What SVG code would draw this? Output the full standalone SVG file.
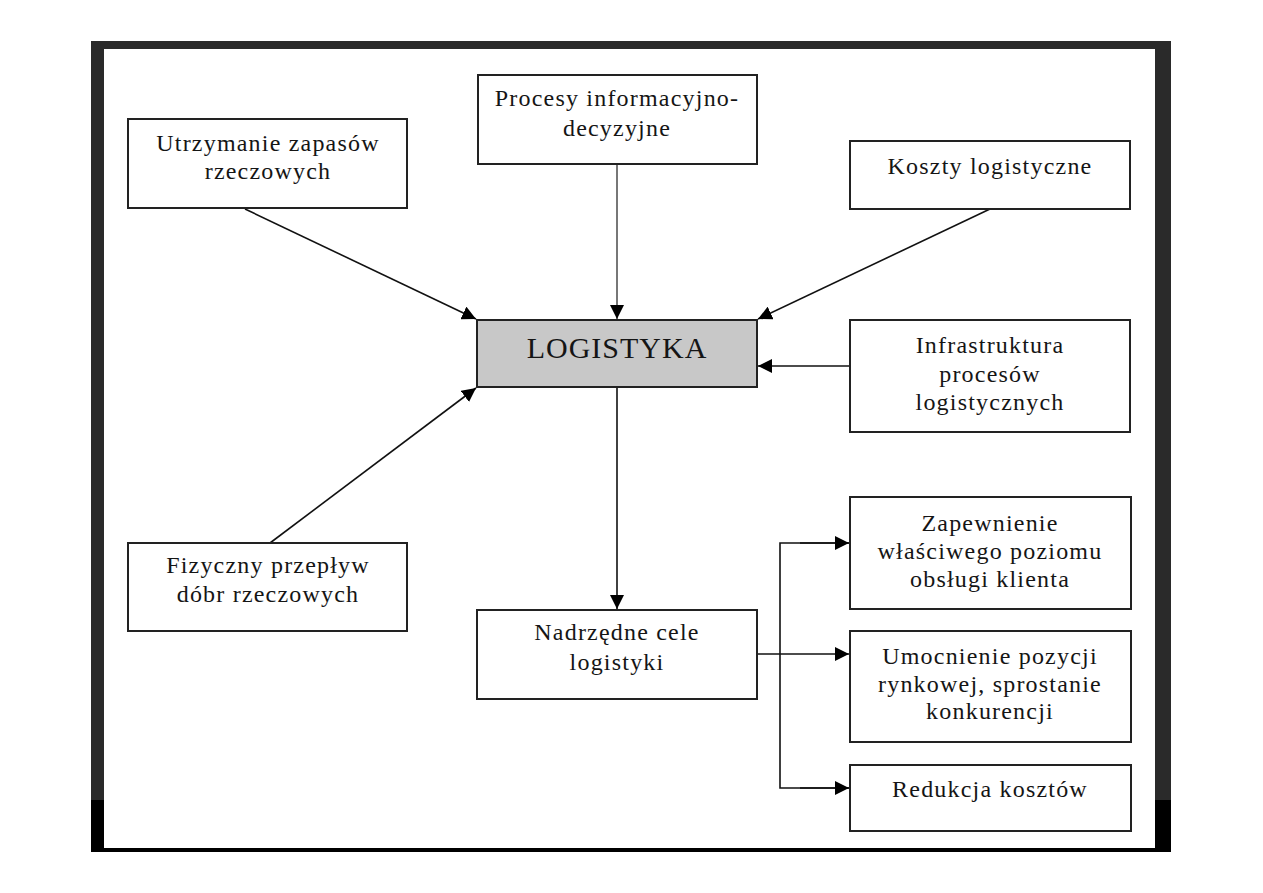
<svg xmlns="http://www.w3.org/2000/svg" width="1263" height="893" viewBox="0 0 1263 893">
<defs>
<style>
.box{fill:#fff;stroke:#222;stroke-width:2}
.main{fill:#c8c8c8;stroke:#222;stroke-width:2}
.t{font-family:"Liberation Serif","Times New Roman",serif;font-size:24px;letter-spacing:1.2px;fill:#151515;text-anchor:middle}
.big{font-size:30px;letter-spacing:1px}
.c{fill:none;stroke:#111;stroke-width:1.6}
.g{stroke:#555}
</style>
<marker id="ah" viewBox="0 0 10 10" refX="10" refY="5" markerWidth="14" markerHeight="14" markerUnits="userSpaceOnUse" orient="auto">
<path d="M0,0 L10,5 L0,10 z" fill="#000"/>
</marker>
</defs>
<rect width="1263" height="893" fill="#fff"/>
<path d="M91,41 H1171 V852 H91 Z M104,49 V848 H1155 V49 Z" fill="#2a2a2a" fill-rule="evenodd"/>
<rect x="1155" y="800" width="16" height="52" fill="#000"/>
<rect x="91" y="800" width="13" height="52" fill="#000"/>
<rect x="91" y="848" width="1080" height="4" fill="#000"/>

<g id="connectors">
<line class="c" x1="245" y1="209" x2="476" y2="319" marker-end="url(#ah)"/>
<line class="c g" x1="617" y1="164" x2="617" y2="319" marker-end="url(#ah)"/>
<line class="c" x1="990" y1="209" x2="758" y2="319" marker-end="url(#ah)"/>
<line class="c" x1="850" y1="366" x2="758" y2="366" marker-end="url(#ah)"/>
<line class="c" x1="270" y1="543" x2="476" y2="388" marker-end="url(#ah)"/>
<line class="c" x1="617" y1="387" x2="617" y2="609" marker-end="url(#ah)"/>
<line class="c" x1="757" y1="654" x2="849" y2="654" marker-end="url(#ah)"/>
<polyline class="c" points="849,543 780,543 780,788 849,788"/>
<line class="c" x1="800" y1="543" x2="849" y2="543" marker-end="url(#ah)"/>
<line class="c" x1="800" y1="788" x2="849" y2="788" marker-end="url(#ah)"/>
</g>

<g id="utrzymanie">
<rect class="box" x="128" y="119" width="279" height="89"/>
<text class="t" x="268" y="151">Utrzymanie zapasów</text>
<text class="t" x="268" y="179">rzeczowych</text>
</g>
<g id="procesy">
<rect class="box" x="478" y="75" width="279" height="89"/>
<text class="t" x="617" y="106">Procesy informacyjno-</text>
<text class="t" x="617" y="136">decyzyjne</text>
</g>
<g id="koszty">
<rect class="box" x="850" y="141" width="280" height="68"/>
<text class="t" x="990" y="174">Koszty logistyczne</text>
</g>
<g id="logistyka">
<rect class="main" x="477" y="320" width="280" height="67"/>
<text class="t big" x="617" y="358">LOGISTYKA</text>
</g>
<g id="infrastruktura">
<rect class="box" x="850" y="320" width="280" height="112"/>
<text class="t" x="990" y="353">Infrastruktura</text>
<text class="t" x="990" y="382">procesów</text>
<text class="t" x="990" y="410">logistycznych</text>
</g>
<g id="fizyczny">
<rect class="box" x="128" y="543" width="279" height="88"/>
<text class="t" x="268" y="573">Fizyczny przepływ</text>
<text class="t" x="268" y="602">dóbr rzeczowych</text>
</g>
<g id="nadrzedne">
<rect class="box" x="477" y="610" width="280" height="89"/>
<text class="t" x="617" y="640">Nadrzędne cele</text>
<text class="t" x="617" y="670">logistyki</text>
</g>
<g id="zapewnienie">
<rect class="box" x="850" y="497" width="281" height="112"/>
<text class="t" x="990" y="531">Zapewnienie</text>
<text class="t" x="990" y="559">właściwego poziomu</text>
<text class="t" x="990" y="587">obsługi klienta</text>
</g>
<g id="umocnienie">
<rect class="box" x="850" y="631" width="281" height="111"/>
<text class="t" x="990" y="664">Umocnienie pozycji</text>
<text class="t" x="990" y="692">rynkowej, sprostanie</text>
<text class="t" x="990" y="719">konkurencji</text>
</g>
<g id="redukcja">
<rect class="box" x="850" y="765" width="281" height="66"/>
<text class="t" x="990" y="797">Redukcja kosztów</text>
</g>
</svg>
